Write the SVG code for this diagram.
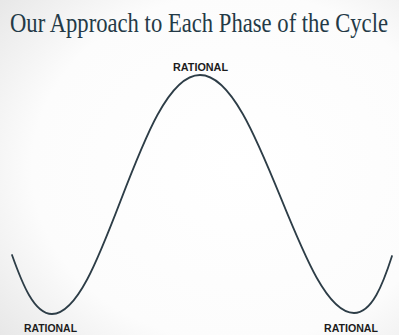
<svg xmlns="http://www.w3.org/2000/svg" width="399" height="335" viewBox="0 0 399 335">
  <defs>
    <radialGradient id="bg" cx="0.6" cy="0.5" r="0.8">
      <stop offset="0" stop-color="#ffffff"/>
      <stop offset="0.65" stop-color="#fcfcfc"/>
      <stop offset="1" stop-color="#e6e6e6"/>
    </radialGradient>
  </defs>
  <style>
    .title { font-family: "Liberation Serif", "DejaVu Serif", serif; font-size: 22px; fill: #243a47; }
    .lbl { font-family: "Liberation Sans", Arial, sans-serif; font-weight: bold; font-size: 11px; fill: #1c1c1c; text-anchor: middle; }
    .curve { fill: none; stroke: #2d3d47; stroke-width: 1.8; stroke-linecap: round; }
  </style>
  <rect width="399" height="335" fill="url(#bg)"/>
  <g id="title">
    <text class="title" transform="translate(10,32) scale(1,1.2)" x="0" y="0" textLength="378" lengthAdjust="spacingAndGlyphs">Our Approach to Each Phase of the Cycle</text>
  </g>
  <g id="connectors">
    <path class="curve" d="M12,255 C22,283 34,314 52,314 C104,314 140,75 200,75 C260,75 300,313 354,313 C372,313 383,284 392,256"/>
  </g>
  <g id="label-top">
    <text class="lbl" x="200.5" y="71" textLength="55" lengthAdjust="spacingAndGlyphs">RATIONAL</text>
  </g>
  <g id="label-bottom-left">
    <text class="lbl" x="50.5" y="331.5" textLength="53" lengthAdjust="spacingAndGlyphs">RATIONAL</text>
  </g>
  <g id="label-bottom-right">
    <text class="lbl" x="351" y="331.5" textLength="54" lengthAdjust="spacingAndGlyphs">RATIONAL</text>
  </g>
</svg>
